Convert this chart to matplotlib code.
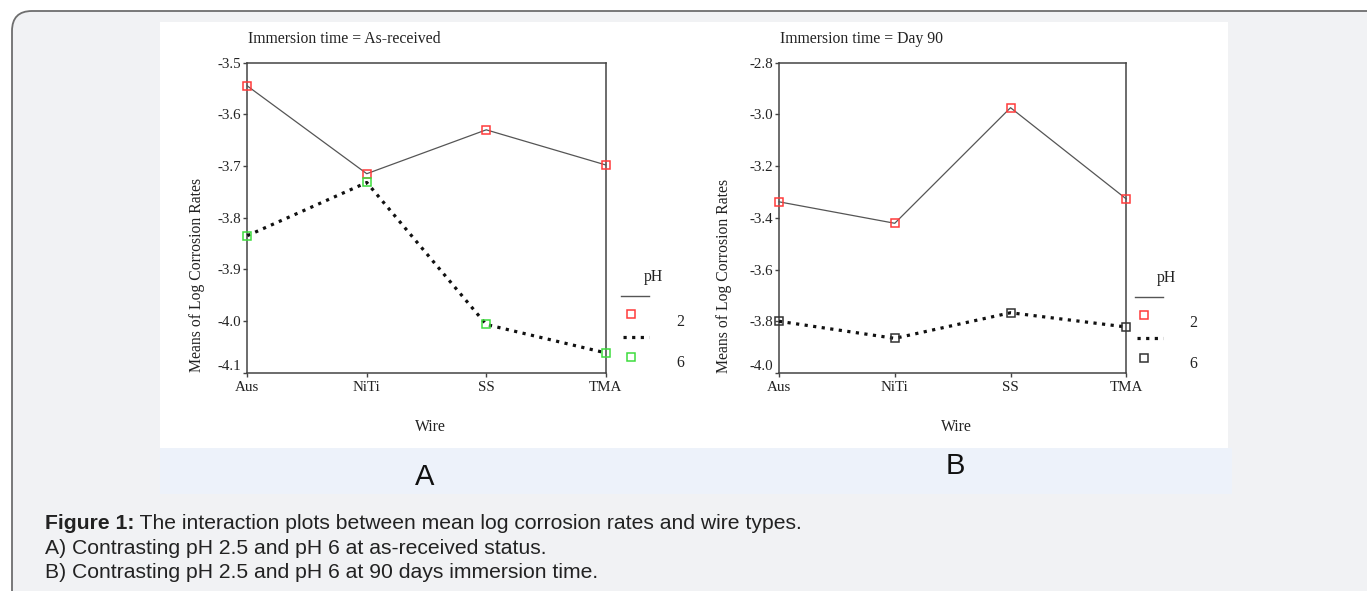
import matplotlib
matplotlib.use("Agg")
import matplotlib.pyplot as plt
from matplotlib.patches import FancyBboxPatch, Rectangle
from matplotlib.lines import Line2D

W, H = 1367, 591

# ---------------- data ----------------
wires = ["Aus", "NiTi", "SS", "TMA"]
ph_levels = ["2", "6"]

a_ph2 = [-3.545, -3.715, -3.630, -3.698]
a_ph6 = [-3.835, -3.732, -4.007, -4.062]
a_yticks = [-3.5, -3.6, -3.7, -3.8, -3.9, -4.0, -4.1]
a_title = "Immersion time = As-received"

b_ph2 = [-3.338, -3.421, -2.974, -3.327]
b_ph6 = [-3.800, -3.866, -3.767, -3.822]
b_yticks = [-2.8, -3.0, -3.2, -3.4, -3.6, -3.8, -4.0]
b_title = "Immersion time = Day 90"

caption_bold = "Figure 1:"
caption_rest = " The interaction plots between mean log corrosion rates and wire types."
caption_a = "A) Contrasting pH 2.5 and pH 6 at as-received status."
caption_b = "B) Contrasting pH 2.5 and pH 6 at 90 days immersion time."

# ---------------- figure ----------------
fig = plt.figure(figsize=(W / 100, H / 100), dpi=100)
fig.patch.set_facecolor("white")

bg = fig.add_axes([0, 0, 1, 1])
bg.set_xlim(0, W)
bg.set_ylim(H, 0)
bg.axis("off")

bg.add_patch(FancyBboxPatch((12, 11), 1500, 700,
                            boxstyle="round,pad=0,rounding_size=20",
                            facecolor="#f1f2f4", edgecolor="#6e6e6e", lw=1.3))
bg.add_patch(Rectangle((160, 448), 1072, 46, facecolor="#edf2fa", edgecolor="none"))
bg.add_patch(Rectangle((160, 22), 1068, 426, facecolor="white", edgecolor="none"))

bg.text(425, 477, "A", fontsize=21, family="Liberation Sans", ha="center", va="center", color="#111")
bg.text(955, 466, "B", fontsize=21, family="Liberation Sans", ha="center", va="center", color="#111")

cap_font = dict(fontsize=15.2, family="Liberation Sans", color="#222", va="baseline")
t = bg.text(45, 529, caption_bold, fontweight="bold", **cap_font)
fig.canvas.draw()
bb = t.get_window_extent()
bg.text(45 + bb.width, 529, caption_rest, **cap_font)
bg.text(45, 554, caption_a, **cap_font)
bg.text(45, 578, caption_b, **cap_font)

SERIF = "Liberation Serif"
TXT = "#222222"
FS = 11.3


def make_panel(left, right, top, bottom, ph2, ph6, yticks, title, c6, ylab_x,
               leg_line_x, leg_sq_x, leg_ph_x, leg_lab_x, leg_y):
    ax = fig.add_axes([left / W, 1 - bottom / H, (right - left) / W, (bottom - top) / H])
    x = list(range(len(wires)))
    ax.plot(x, ph2, color="#555555", lw=0.9, ls="-", marker="s", ms=5.5,
            mfc="none", mec="#ff3b3b", mew=1.1, clip_on=False, zorder=3)
    ax.plot(x, ph6, color="#111111", lw=2.3, ls=(0, (1, 1.7)), marker="s", ms=5.5,
            mfc="none", mec=c6, mew=1.1, clip_on=False, zorder=3)
    ax.set_xlim(0, len(wires) - 1)
    ax.set_ylim(min(yticks), max(yticks))
    ax.set_xticks(x)
    ax.set_xticklabels(wires)
    ax.set_yticks(yticks)
    ax.set_yticklabels([f"{v:.1f}" for v in yticks])
    for s in ax.spines.values():
        s.set_color("#444444")
        s.set_linewidth(1.1)
    ax.tick_params(axis="both", direction="out", length=3, width=1, color="#444444",
                   labelsize=10.8, labelcolor=TXT)
    ax.tick_params(axis="y", pad=1.5)
    ax.tick_params(axis="x", pad=3)
    for lab in ax.get_xticklabels() + ax.get_yticklabels():
        lab.set_family(SERIF)
    # lowest y tick label sits raised above the x axis, as in the original
    ylabs = ax.get_yticklabels()
    ylabs[-1].set_va("bottom")

    ax.set_xlabel("Wire", family=SERIF, fontsize=FS, color=TXT, va="center")
    ax.xaxis.set_label_coords(0.5 + 4 / (right - left), 1 - (427 - top) / (bottom - top))
    ax.set_ylabel("Means of Log Corrosion Rates", family=SERIF, fontsize=FS, color=TXT,
                  rotation=90, rotation_mode="anchor", ha="left", va="center")
    ax.yaxis.set_label_coords((ylab_x - left) / (right - left), 0)
    ax.text(0.003, 1 + (top - 39) / (bottom - top), title, transform=ax.transAxes,
            family=SERIF, fontsize=FS, color=TXT, ha="left", va="center")

    # legend (figure pixel coordinates)
    y0 = leg_y
    bg.text(leg_ph_x, y0 - 19, "pH", family=SERIF, fontsize=FS, color=TXT, ha="center", va="center")
    bg.add_line(Line2D([leg_line_x, leg_line_x + 28], [y0, y0], color="#555555", lw=1.0))
    bg.add_line(Line2D([leg_sq_x], [y0 + 18], ls="none", marker="s", ms=5.5, mfc="none",
                       mec="#ff3b3b", mew=1.1))
    bg.text(leg_lab_x, y0 + 26, ph_levels[0], family=SERIF, fontsize=FS, color=TXT, ha="center", va="center")
    bg.add_line(Line2D([leg_line_x + 2, leg_line_x + 28], [y0 + 41, y0 + 41], color="#111111",
                       lw=2.3, ls=(0, (1, 1.7))))
    bg.add_line(Line2D([leg_sq_x], [y0 + 61], ls="none", marker="s", ms=5.5, mfc="none",
                       mec=c6, mew=1.1))
    bg.text(leg_lab_x, y0 + 67, ph_levels[1], family=SERIF, fontsize=FS, color=TXT, ha="center", va="center")
    return ax


make_panel(247.3, 605.7, 62.7, 372.5, a_ph2, a_ph6, a_yticks, a_title, "#3ddc3d", 197,
           621, 631, 653, 680, 296)
make_panel(779, 1126.3, 62.7, 373, b_ph2, b_ph6, b_yticks, b_title, "#333333", 724,
           1135, 1144, 1166, 1193, 297)

fig.savefig("out.png", dpi=100, facecolor=fig.get_facecolor())
